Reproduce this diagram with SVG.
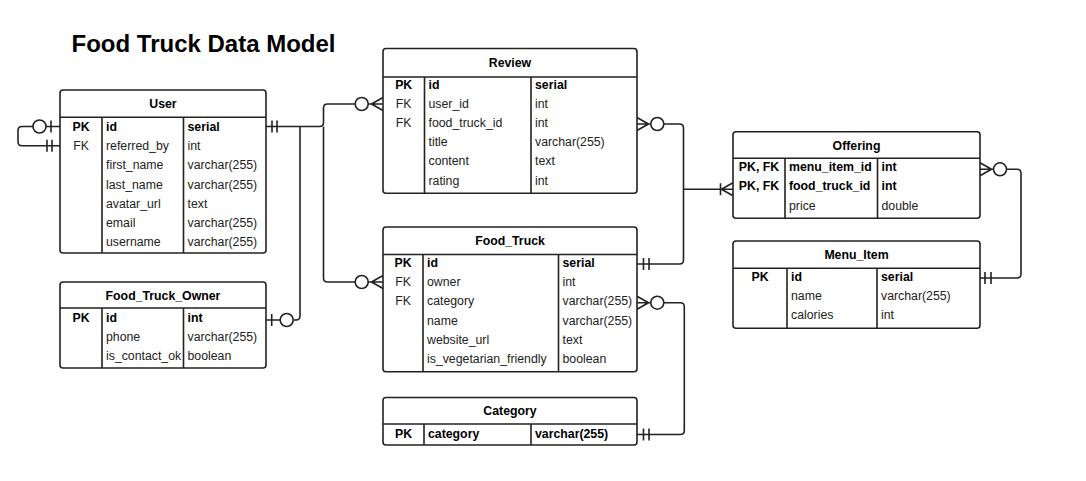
<svg xmlns="http://www.w3.org/2000/svg" width="1086" height="481" viewBox="0 0 1086 481">
<style>
.box{fill:#fff;stroke:#222;stroke-width:1.6}
.ln{fill:none;stroke:#222;stroke-width:1.6}
.t{font-family:"Liberation Sans",Arial,sans-serif;font-size:12.3px;fill:#222}
.b{font-weight:bold;fill:#000}
.h{font-family:"Liberation Sans",Arial,sans-serif;font-size:12.3px;font-weight:bold;fill:#000;text-anchor:middle}
.c{text-anchor:middle}
.title{font-family:"Liberation Sans",Arial,sans-serif;font-size:24px;font-weight:bold;fill:#000}
.o{fill:#fff;stroke:#222;stroke-width:1.6}
</style>
<rect width="1086" height="481" fill="#fff"/>
<text class="title" x="71.5" y="51.5">Food Truck Data Model</text>

<g id="connectors">
  <!-- User self loop -->
  <path class="ln" d="M60,126.5 H22 Q18,126.5 18,130.5 V141.7 Q18,145.7 22,145.7 H60"/>
  <circle class="o" cx="39.5" cy="126.5" r="6.5"/>
  <path class="ln" d="M51,120.5 V132.5 M47,139.7 V151.7 M52,139.7 V151.7"/>
  <!-- User -> Review / Food_Truck / Food_Truck_Owner -->
  <path class="ln" d="M266,126.5 H319.5 Q323.5,126.5 323.5,122.5 V108 Q323.5,104 327.5,104 H355.2"/>
  <path class="ln" d="M323.5,126.5 V278 Q323.5,282 327.5,282 H355.2"/>
  <path class="ln" d="M300,126.5 V316 Q300,320 296,320 H293.2 M280.2,320 H266"/>
  <path class="ln" d="M272,120.5 V132.5 M277,120.5 V132.5"/>
  <circle class="o" cx="361.7" cy="104" r="6.5"/>
  <path class="ln" d="M368.2,104 H383 M371.5,104 L383,97.5 M371.5,104 L383,110.5"/>
  <circle class="o" cx="361.7" cy="282" r="6.5"/>
  <path class="ln" d="M368.2,282 H383 M371.5,282 L383,275.5 M371.5,282 L383,288.5"/>
  <circle class="o" cx="286.7" cy="320" r="6.5"/>
  <path class="ln" d="M271.7,314 V326"/>
  <!-- Review -> Food_Truck / Offering -->
  <path class="ln" d="M663.8,124 H679.5 Q683.5,124 683.5,128 V260 Q683.5,264 679.5,264 H637"/>
  <path class="ln" d="M637,124 H650.8 M648.5,124 L637,117.5 M648.5,124 L637,130.5"/>
  <circle class="o" cx="657.3" cy="124" r="6.5"/>
  <path class="ln" d="M643.5,258 V270 M649,258 V270"/>
  <path class="ln" d="M683.5,189.3 H733 M720.5,183.3 V195.3 M721.5,189.3 L733,182.8 M721.5,189.3 L733,195.8"/>
  <!-- Food_Truck -> Category -->
  <path class="ln" d="M663.8,302.7 H680.3 Q684.3,302.7 684.3,306.7 V430.5 Q684.3,434.5 680.3,434.5 H637"/>
  <path class="ln" d="M637,302.7 H650.8 M648.5,302.7 L637,296.2 M648.5,302.7 L637,309.2"/>
  <circle class="o" cx="657.3" cy="302.7" r="6.5"/>
  <path class="ln" d="M643.5,428.5 V440.5 M649,428.5 V440.5"/>
  <!-- Offering -> Menu_Item -->
  <path class="ln" d="M1006.5,169.3 H1017 Q1021,169.3 1021,173.3 V274 Q1021,278 1017,278 H980"/>
  <path class="ln" d="M980,169.3 H993.5 M991.5,169.3 L980,162.8 M991.5,169.3 L980,175.8"/>
  <circle class="o" cx="1000" cy="169.3" r="6.5"/>
  <path class="ln" d="M985,272 V284 M991,272 V284"/>
</g>

<g id="User">
  <rect class="box" x="60" y="90" width="206" height="163" rx="3"/>
  <path class="ln" d="M60,117.3 H266 M102,117.3 V253 M183.5,117.3 V253"/>
  <text class="h" x="163" y="107.5">User</text>
  <text class="t b c" x="81" y="131">PK</text>
  <text class="t c" x="81" y="150.2">FK</text>
  <text class="t b" x="106" y="131">id</text>
  <text class="t" x="106" y="150.2">referred_by</text>
  <text class="t" x="106" y="169.4">first_name</text>
  <text class="t" x="106" y="188.6">last_name</text>
  <text class="t" x="106" y="207.8">avatar_url</text>
  <text class="t" x="106" y="227">email</text>
  <text class="t" x="106" y="246.2">username</text>
  <text class="t b" x="187.5" y="131">serial</text>
  <text class="t" x="187.5" y="150.2">int</text>
  <text class="t" x="187.5" y="169.4">varchar(255)</text>
  <text class="t" x="187.5" y="188.6">varchar(255)</text>
  <text class="t" x="187.5" y="207.8">text</text>
  <text class="t" x="187.5" y="227">varchar(255)</text>
  <text class="t" x="187.5" y="246.2">varchar(255)</text>
</g>

<g id="Food_Truck_Owner">
  <rect class="box" x="60" y="282" width="206" height="86" rx="3"/>
  <path class="ln" d="M60,308 H266 M102,308 V368 M183.5,308 V368"/>
  <text class="h" x="163" y="299.5">Food_Truck_Owner</text>
  <text class="t b c" x="81" y="321.8">PK</text>
  <text class="t b" x="106" y="321.8">id</text>
  <text class="t" x="106" y="341">phone</text>
  <text class="t" x="106" y="360.2">is_contact_ok</text>
  <text class="t b" x="187.5" y="321.8">int</text>
  <text class="t" x="187.5" y="341">varchar(255)</text>
  <text class="t" x="187.5" y="360.2">boolean</text>
</g>

<g id="Review">
  <rect class="box" x="383" y="48.5" width="254" height="144.8" rx="3"/>
  <path class="ln" d="M383,77 H637 M424.5,77 V193.3 M531,77 V193.3"/>
  <text class="h" x="510" y="66.5">Review</text>
  <text class="t b c" x="403.7" y="88.5">PK</text>
  <text class="t c" x="403.7" y="107.7">FK</text>
  <text class="t c" x="403.7" y="126.9">FK</text>
  <text class="t b" x="428.5" y="88.5">id</text>
  <text class="t" x="428.5" y="107.7">user_id</text>
  <text class="t" x="428.5" y="126.9">food_truck_id</text>
  <text class="t" x="428.5" y="146.1">title</text>
  <text class="t" x="428.5" y="165.3">content</text>
  <text class="t" x="428.5" y="184.5">rating</text>
  <text class="t b" x="535" y="88.5">serial</text>
  <text class="t" x="535" y="107.7">int</text>
  <text class="t" x="535" y="126.9">int</text>
  <text class="t" x="535" y="146.1">varchar(255)</text>
  <text class="t" x="535" y="165.3">text</text>
  <text class="t" x="535" y="184.5">int</text>
</g>

<g id="Food_Truck">
  <rect class="box" x="383" y="227" width="254" height="144.7" rx="3"/>
  <path class="ln" d="M383,254.5 H637 M423,254.5 V371.7 M558.5,254.5 V371.7"/>
  <text class="h" x="510" y="245">Food_Truck</text>
  <text class="t b c" x="403" y="267.2">PK</text>
  <text class="t c" x="403" y="286.3">FK</text>
  <text class="t c" x="403" y="305.4">FK</text>
  <text class="t b" x="427" y="267.2">id</text>
  <text class="t" x="427" y="286.3">owner</text>
  <text class="t" x="427" y="305.4">category</text>
  <text class="t" x="427" y="324.5">name</text>
  <text class="t" x="427" y="343.6">website_url</text>
  <text class="t" x="427" y="362.7">is_vegetarian_friendly</text>
  <text class="t b" x="562.5" y="267.2">serial</text>
  <text class="t" x="562.5" y="286.3">int</text>
  <text class="t" x="562.5" y="305.4">varchar(255)</text>
  <text class="t" x="562.5" y="324.5">varchar(255)</text>
  <text class="t" x="562.5" y="343.6">text</text>
  <text class="t" x="562.5" y="362.7">boolean</text>
</g>

<g id="Category">
  <rect class="box" x="383" y="397.5" width="254" height="47.5" rx="3"/>
  <path class="ln" d="M383,424 H637 M424,424 V445 M531,424 V445"/>
  <text class="h" x="510" y="415">Category</text>
  <text class="t b c" x="403.5" y="438">PK</text>
  <text class="t b" x="428" y="438">category</text>
  <text class="t b" x="535" y="438">varchar(255)</text>
</g>

<g id="Offering">
  <rect class="box" x="733" y="131.7" width="247" height="86.6" rx="3"/>
  <path class="ln" d="M733,158.3 H980 M785,158.3 V218.3 M877.5,158.3 V218.3"/>
  <text class="h" x="856.5" y="149.5">Offering</text>
  <text class="t b c" x="759" y="171.2">PK, FK</text>
  <text class="t b c" x="759" y="190.4">PK, FK</text>
  <text class="t b" x="789" y="171.2">menu_item_id</text>
  <text class="t b" x="789" y="190.4">food_truck_id</text>
  <text class="t" x="789" y="209.6" fill="#444">price</text>
  <text class="t b" x="881.5" y="171.2">int</text>
  <text class="t b" x="881.5" y="190.4">int</text>
  <text class="t" x="881.5" y="209.6">double</text>
</g>

<g id="Menu_Item">
  <rect class="box" x="733" y="241" width="247" height="87.3" rx="3"/>
  <path class="ln" d="M733,268.3 H980 M787,268.3 V328.3 M877,268.3 V328.3"/>
  <text class="h" x="856.5" y="258.5">Menu_Item</text>
  <text class="t b c" x="760" y="281.2">PK</text>
  <text class="t b" x="791" y="281.2">id</text>
  <text class="t" x="791" y="300.2">name</text>
  <text class="t" x="791" y="319.2">calories</text>
  <text class="t b" x="881" y="281.2">serial</text>
  <text class="t" x="881" y="300.2">varchar(255)</text>
  <text class="t" x="881" y="319.2">int</text>
</g>
</svg>
